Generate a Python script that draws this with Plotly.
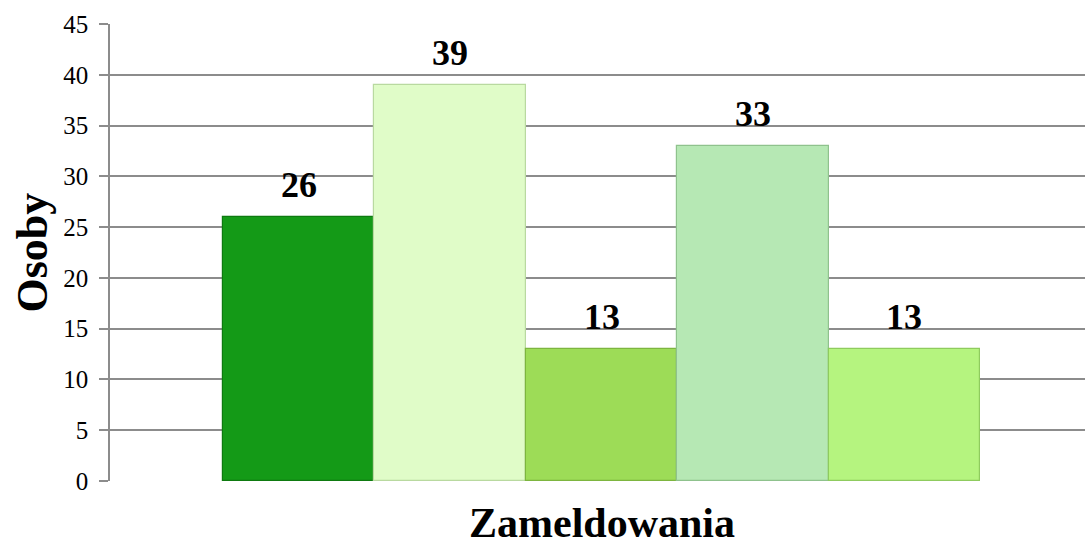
import plotly.graph_objects as go

# values
series_pos = [0, 1, 2, 3, 4]
osoby = [26, 39, 13, 33, 13]
bar_colors = ["#149A17", "#E0FCC8", "#9DDC57", "#B6E8B4", "#B5F47F"]
edge_colors = ["#0E7A10", "#B9D9A0", "#7DB53F", "#8FC28D", "#8FCB5E"]
y_ticks = [0, 5, 10, 15, 20, 25, 30, 35, 40, 45]

SERIF = "Liberation Serif, Times New Roman, serif"

fig = go.Figure()
fig.add_trace(
    go.Bar(
        x=series_pos,
        y=osoby,
        width=1,
        marker=dict(color=bar_colors, line=dict(color=edge_colors, width=1.2)),
        hoverinfo="skip",
        showlegend=False,
    )
)

# bold value labels above the bars
for xp, v in zip(series_pos, osoby):
    fig.add_annotation(
        x=xp, y=v, text="<b>%d</b>" % v, showarrow=False,
        yanchor="bottom", yshift=10,
        font=dict(family=SERIF, size=36, color="black"),
    )

fig.add_annotation(
    x=-0.08, y=0.5, xref="paper", yref="paper", text="<b>Osoby</b>",
    textangle=-90, showarrow=False, xanchor="center", yanchor="middle",
    font=dict(family=SERIF, size=44, color="black"),
)
fig.add_annotation(
    x=0.505, y=-0.147, xref="paper", yref="paper", text="<b>Zameldowania</b>",
    showarrow=False, xanchor="center", yanchor="bottom",
    font=dict(family=SERIF, size=42, color="black"),
)

fig.update_layout(
    width=1085,
    height=550,
    margin=dict(l=110, r=0, t=24, b=69),
    plot_bgcolor="white",
    paper_bgcolor="white",
    bargap=0,
    xaxis=dict(
        range=[-1.246, 5.193],
        showticklabels=False,
        showgrid=False,
        zeroline=False,
        showline=False,
        fixedrange=True,
    ),
    yaxis=dict(
        range=[0, 45],
        tickvals=y_ticks,
        ticks="outside",
        ticklen=9,
        tickcolor="#8C8C8C",
        tickwidth=1.5,
        ticklabelstandoff=6,
        showline=True,
        linecolor="#8C8C8C",
        linewidth=1.5,
        gridcolor="#8C8C8C",
        gridwidth=1.5,
        zeroline=False,
        tickfont=dict(family=SERIF, size=25, color="black"),
        fixedrange=True,
    ),
)

# drop the default page margin so the chart sits at the window corner
fig.write_html(
    "out.html",
    config={"displayModeBar": False},
    post_script="document.body.style.margin='0';",
)
